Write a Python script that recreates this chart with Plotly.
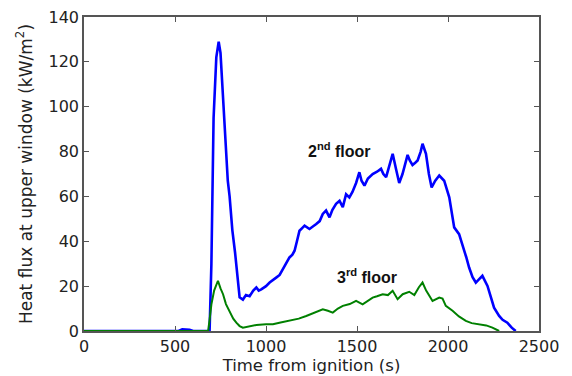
import plotly.graph_objects as go

# 2nd floor (blue)
t_blue = [0, 520, 540, 580, 600, 690, 700, 705, 712, 727, 740, 750, 765, 780, 790, 800, 815, 830, 845, 855,
          873, 890, 910, 930, 947, 960, 974, 1000, 1020, 1040, 1056, 1075, 1093, 1110, 1129, 1145, 1157, 1170,
          1184, 1200, 1212, 1239, 1260, 1276, 1295, 1312, 1330, 1349, 1365, 1385, 1404, 1422, 1440, 1458, 1475,
          1495, 1513, 1525, 1541, 1560, 1586, 1610, 1632, 1645, 1660, 1680, 1696, 1715, 1732, 1750, 1778, 1790,
          1805, 1820, 1833, 1850, 1860, 1879, 1895, 1910, 1930, 1952, 1979, 2007, 2020, 2034, 2061, 2075, 2089,
          2100, 2116, 2135, 2153, 2170, 2189, 2217, 2235, 2253, 2281, 2300, 2326, 2350, 2372]
q_blue = [0, 0, 0.8, 0.5, 0, 0, 30, 60, 95, 122, 129, 124, 104, 85, 67, 60, 45, 35, 22, 15,
          14, 16, 15.5, 18, 19.4, 18, 18.6, 20, 21.6, 23, 23.8, 25, 27.6, 30, 32.8, 34, 35.8, 40,
          44.7, 46, 47, 45.5, 47, 47.7, 49, 52.2, 53.7, 50.7, 54, 56.7, 58, 55.2, 61, 59.6, 62,
          66, 70.8, 67, 64.8, 68, 70, 71, 72.3, 70, 68.6, 74, 79, 72, 66, 70, 78.5, 76,
          74, 75, 76, 80, 83.5, 79, 70, 64, 67, 69.3, 67, 59.6, 53, 46.2, 43.2, 40, 35.8,
          33, 28.3, 24, 21.6, 23, 24.6, 20.1, 15, 10.4, 6.7, 5, 3.7, 1.5, 0]

# 3rd floor (green)
t_green = [0, 682, 690, 700, 715, 736, 750, 764, 780, 800, 820, 837, 855, 873, 900, 947, 1000, 1038, 1080,
           1129, 1180, 1221, 1260, 1312, 1340, 1367, 1395, 1422, 1460, 1495, 1531, 1560, 1586, 1610, 1641,
           1670, 1696, 1723, 1751, 1787, 1815, 1840, 1860, 1880, 1897, 1915, 1952, 1970, 1988, 2025, 2060,
           2098, 2130, 2170, 2210, 2244, 2281]
q_green = [0, 0, 5, 11.9, 18, 22.4, 19, 16.4, 12, 8.9, 5.5, 3.7, 2.2, 1.5, 2, 2.7, 3, 3, 3.8,
           4.5, 5.5, 6.7, 8, 9.7, 9, 8.2, 10, 11.2, 12, 13.4, 11.9, 13.5, 14.9, 15.5, 16.4,
           16, 17.9, 14.2, 16.4, 17.5, 16, 19.5, 21.6, 18, 15.6, 13.4, 14.9, 14.5, 11.2, 9, 6.5,
           4.5, 3.5, 3, 2.5, 1.5, 0]

x_ticks = [0, 500, 1000, 1500, 2000, 2500]
y_ticks = [0, 20, 40, 60, 80, 100, 120, 140]

FONT = "DejaVu Sans"

fig = go.Figure()
fig.add_trace(go.Scatter(x=t_blue, y=q_blue, mode="lines",
                         line=dict(color="#0000FF", width=2.6), showlegend=False))
fig.add_trace(go.Scatter(x=t_green, y=q_green, mode="lines",
                         line=dict(color="#008000", width=2), showlegend=False))

fig.add_annotation(x=1405, y=80.5, text="<b>2<sup>nd</sup> floor</b>", showarrow=False,
                   font=dict(family="Liberation Sans", size=16, color="#111"))
fig.add_annotation(x=1555, y=24.5, text="<b>3<sup>rd</sup> floor</b>", showarrow=False,
                   font=dict(family="Liberation Sans", size=16, color="#111"))

axis_common = dict(showgrid=False, zeroline=False, showline=True, linecolor="#555",
                   linewidth=1.5, mirror="ticks", ticks="inside", ticklen=5, automargin=False,
                   ticklabeloverflow="allow",
                   tickcolor="#555", tickfont=dict(family=FONT, size=16, color="#222"))

fig.update_xaxes(range=[0, 2500], tickvals=x_ticks,
                 title=dict(text="Time from ignition (s)", standoff=2,
                            font=dict(family=FONT, size=16.5, color="#222")),
                 **axis_common)
fig.update_yaxes(range=[0, 140], tickvals=y_ticks,
                 title=dict(text="Heat flux at upper window (kW/m<sup>2</sup>)", standoff=12,
                            font=dict(family=FONT, size=17, color="#222")),
                 **axis_common)

# page body adds an 8px offset, so the figure is sized to fit the 572x376 window
fig.update_layout(width=564, height=368, margin=dict(l=76, r=33, t=9, b=45),
                  plot_bgcolor="white", paper_bgcolor="white")

fig.write_html("out.html")
